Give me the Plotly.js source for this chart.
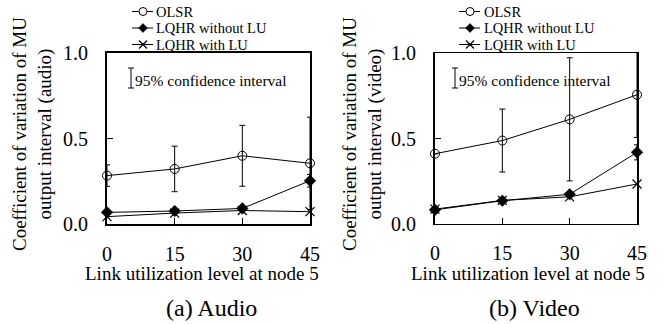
<!DOCTYPE html>
<html>
<head>
<meta charset="utf-8">
<script src="https://cdn.plot.ly/plotly-3.0.1.min.js"></script>
<style>html,body{margin:0;padding:0;background:#fff;}#chart{width:662px;height:324px;}</style>
</head>
<body>
<div id="chart"></div>
<script>
// ---- data ----
const linkLevels = [0, 15, 30, 45];
const xTickLabels = ['0', '15', '30', '45'];
const yTickVals = [0, 0.5, 1.0];
const yTickLabels = ['0.0', '0.5', '1.0'];
const seriesNames = ['OLSR', 'LQHR without LU', 'LQHR with LU'];

// (a) Audio
const olsrAudio = [0.283, 0.322, 0.399, 0.355];
const olsrAudioErr = [0.063, 0.133, 0.178, 0.27];
const lqhrNoLuAudio = [0.068, 0.076, 0.091, 0.253];
const lqhrNoLuAudioErr = [0, 0, 0, 0.037];
const lqhrLuAudio = [0.043, 0.064, 0.079, 0.072];

// (b) Video
const olsrVideo = [0.411, 0.488, 0.612, 0.756];
const olsrVideoErr = [0, 0.184, 0.36, 0.25];
const lqhrNoLuVideo = [0.083, 0.136, 0.174, 0.419];
const lqhrNoLuVideoErr = [0, 0, 0, 0.044];
const lqhrLuVideo = [0.087, 0.138, 0.159, 0.234];

const panelTitles = ['(a) Audio', '(b) Video'];
const yTitles = ['Coefficient of variation of MU<br>output interval (audio)',
                 'Coefficient of variation of MU<br>output interval (video)'];
const xTitle = 'Link utilization level at node 5';
const ciLabel = '95% confidence interval';

// ---- helpers ----
const W = 662, H = 324;
const P = x => x / W;
const Q = y => 1 - y / H;
const FONT = 'Liberation Serif';

const markerStyles = [
  {symbol: 'circle-open', size: 9, color: '#000', line: {width: 1, color: '#000'}},
  {symbol: 'diamond', size: 9, color: '#000', line: {width: 0.5, color: '#000'}},
  {symbol: 'x-thin-open', size: 9, color: '#000', line: {width: 1.2, color: '#000'}}
];

function tr(y, err, idx, xa, ya) {
  const t = {
    x: linkLevels, y: y, type: 'scatter', mode: 'lines+markers',
    name: seriesNames[idx], showlegend: false, cliponaxis: false,
    xaxis: xa, yaxis: ya,
    line: {color: '#000', width: 1},
    marker: markerStyles[idx]
  };
  if (err) {
    t.error_y = {type: 'data', array: err, visible: true, color: '#000', thickness: 1, width: 3};
  }
  return t;
}

const data = [
  tr(olsrAudio, olsrAudioErr, 0, 'x', 'y'),
  tr(lqhrNoLuAudio, lqhrNoLuAudioErr, 1, 'x', 'y'),
  tr(lqhrLuAudio, null, 2, 'x', 'y'),
  tr(olsrVideo, olsrVideoErr, 0, 'x2', 'y2'),
  tr(lqhrNoLuVideo, lqhrNoLuVideoErr, 1, 'x2', 'y2'),
  tr(lqhrLuVideo, null, 2, 'x2', 'y2')
];

function xAx(domain, anchor, lw) {
  return {
    domain: domain, anchor: anchor, range: [0, 45],
    tickvals: linkLevels, ticktext: xTickLabels,
    ticks: 'inside', ticklen: 6, tickwidth: 1, tickcolor: '#000',
    showline: true, linewidth: lw, linecolor: '#000', mirror: true,
    showgrid: false, zeroline: false,
    tickfont: {family: FONT, size: 20, color: '#000'},
    ticklabelstandoff: 11
  };
}
function yAx(anchor, lw) {
  return {
    domain: [Q(224), Q(53)], anchor: anchor, range: [0, 1],
    tickvals: yTickVals, ticktext: yTickLabels,
    ticks: 'inside', ticklen: 6, tickwidth: 1, tickcolor: '#000',
    showline: true, linewidth: lw, linecolor: '#000', mirror: true,
    showgrid: false, zeroline: false,
    tickfont: {family: FONT, size: 20, color: '#000'},
    ticklabelstandoff: 13
  };
}

const annotations = [];
const shapes = [];
function ann(text, x, y, size, opts) {
  annotations.push(Object.assign({
    text: text, x: x, y: y, xref: 'paper', yref: 'paper', showarrow: false,
    xanchor: 'center', yanchor: 'middle', borderpad: 0,
    font: {family: FONT, size: size, color: '#000'}
  }, opts || {}));
}
function line(x0, y0, x1, y1, w) {
  shapes.push({type: 'line', xref: 'paper', yref: 'paper',
    x0: P(x0), y0: Q(y0), x1: P(x1), y1: Q(y1), line: {color: '#000', width: w || 1}});
}

// panel-specific placements (pixels)
const panels = [
  {yTitleX: 32, xTitleX: 202, capX: 211, legLine: 132, legText: 155, ciX: 131},
  {yTitleX: 362, xTitleX: 528, capX: 534, legLine: 459, legText: 483, ciX: 455}
];
const legRows = [11.5, 28, 44.5];

panels.forEach((p, i) => {
  ann(yTitles[i], P(p.yTitleX), Q(134), 19, {textangle: -90});
  ann(xTitle, P(p.xTitleX), Q(273), 19);
  ann(panelTitles[i], P(p.capX), Q(308), 24);
  // CI key
  line(p.ciX, 68, p.ciX, 88, 1);
  line(p.ciX - 3, 68, p.ciX + 3, 68, 1);
  line(p.ciX - 3, 88, p.ciX + 3, 88, 1);
  ann(ciLabel, P(p.ciX + 3), Q(80), 15.5, {xanchor: 'left'});
  // legend
  legRows.forEach((ry, k) => {
    const mx = p.legLine + 11;
    line(p.legLine, ry, p.legLine + 21, ry, 1);
    if (k === 0) {
      shapes.push({type: 'circle', xref: 'paper', yref: 'paper',
        x0: P(mx - 4), x1: P(mx + 4), y0: Q(ry + 4), y1: Q(ry - 4),
        fillcolor: '#fff', line: {color: '#000', width: 1}});
    } else if (k === 1) {
      shapes.push({type: 'path', xref: 'paper', yref: 'paper',
        path: `M ${P(mx - 4.5)} ${Q(ry)} L ${P(mx)} ${Q(ry - 4.5)} L ${P(mx + 4.5)} ${Q(ry)} L ${P(mx)} ${Q(ry + 4.5)} Z`,
        fillcolor: '#000', line: {color: '#000', width: 0.5}});
    } else {
      line(mx - 4, ry - 4, mx + 4, ry + 4, 1.2);
      line(mx - 4, ry + 4, mx + 4, ry - 4, 1.2);
    }
    ann(seriesNames[k], P(p.legText), Q(ry), 14.5, {xanchor: 'left'});
  });
});

const layout = {
  width: W, height: H,
  margin: {l: 0, r: 0, t: 0, b: 0},
  paper_bgcolor: '#fff', plot_bgcolor: '#fff',
  showlegend: false,
  font: {family: FONT, color: '#000'},
  xaxis: xAx([P(107), P(310)], 'y', 2),
  yaxis: yAx('x', 2),
  xaxis2: xAx([P(435), P(637)], 'y2', 1),
  yaxis2: yAx('x2', 2),
  annotations: annotations,
  shapes: shapes
};

Plotly.newPlot('chart', data, layout, {displayModeBar: false, staticPlot: true});
</script>
</body>
</html>
